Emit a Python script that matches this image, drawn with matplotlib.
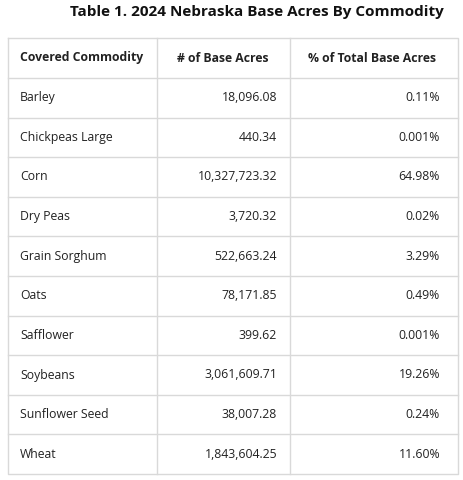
import matplotlib
matplotlib.use('Agg')
import matplotlib.pyplot as plt

TITLE = 'Table 1. 2024 Nebraska Base Acres By Commodity'
HEADERS = ['Covered Commodity', '# of Base Acres', '% of Total Base Acres']
COMMODITIES = ['Barley', 'Chickpeas Large', 'Corn', 'Dry Peas', 'Grain Sorghum',
               'Oats', 'Safflower', 'Soybeans', 'Sunflower Seed', 'Wheat']
ACRES = ['18,096.08', '440.34', '10,327,723.32', '3,720.32', '522,663.24',
         '78,171.85', '399.62', '3,061,609.71', '38,007.28', '1,843,604.25']
PCTS = ['0.11%', '0.001%', '64.98%', '0.02%', '3.29%',
        '0.49%', '0.001%', '19.26%', '0.24%', '11.60%']

W, H = 464, 480
fig = plt.figure(figsize=(W / 100, H / 100), dpi=100)
ax = fig.add_axes([0, 0, 1, 1])
ax.set_xlim(0, W)
ax.set_ylim(H, 0)
ax.axis('off')

font = 'Open Sans'
txt = '#222222'
grid = '#d9d9d9'
fs = 8.8

ax.text(257, 12, TITLE, ha='center', va='center', fontsize=11,
        fontweight='bold', color='#111111', family=font)

left, right, top, bottom = 8, 458, 38, 474
head_h = 40
row_h = (bottom - top - head_h) / len(COMMODITIES)
col_x = [157, 290]

# outer box and column dividers
ax.plot([left, right, right, left, left], [top, top, bottom, bottom, top],
        color=grid, lw=1)
for x in col_x:
    ax.plot([x, x], [top, bottom], color=grid, lw=1)
ax.plot([left, right], [top + head_h] * 2, color=grid, lw=1)
for i in range(1, len(COMMODITIES)):
    y = top + head_h + i * row_h
    ax.plot([left, right], [y, y], color=grid, lw=1)

hy = top + head_h / 2
ax.text(20, hy, HEADERS[0], ha='left', va='center', fontsize=fs,
        fontweight='bold', color=txt, family=font)
ax.text(223, hy, HEADERS[1], ha='center', va='center', fontsize=fs,
        fontweight='bold', color=txt, family=font)
ax.text(372, hy, HEADERS[2], ha='center', va='center', fontsize=fs,
        fontweight='bold', color=txt, family=font)

for i, (c, a, p) in enumerate(zip(COMMODITIES, ACRES, PCTS)):
    y = top + head_h + (i + 0.5) * row_h
    ax.text(20, y, c, ha='left', va='center', fontsize=fs, color=txt, family=font)
    ax.text(277, y, a, ha='right', va='center', fontsize=fs, color=txt, family=font)
    ax.text(440, y, p, ha='right', va='center', fontsize=fs, color=txt, family=font)

fig.savefig('out.png', dpi=100)
